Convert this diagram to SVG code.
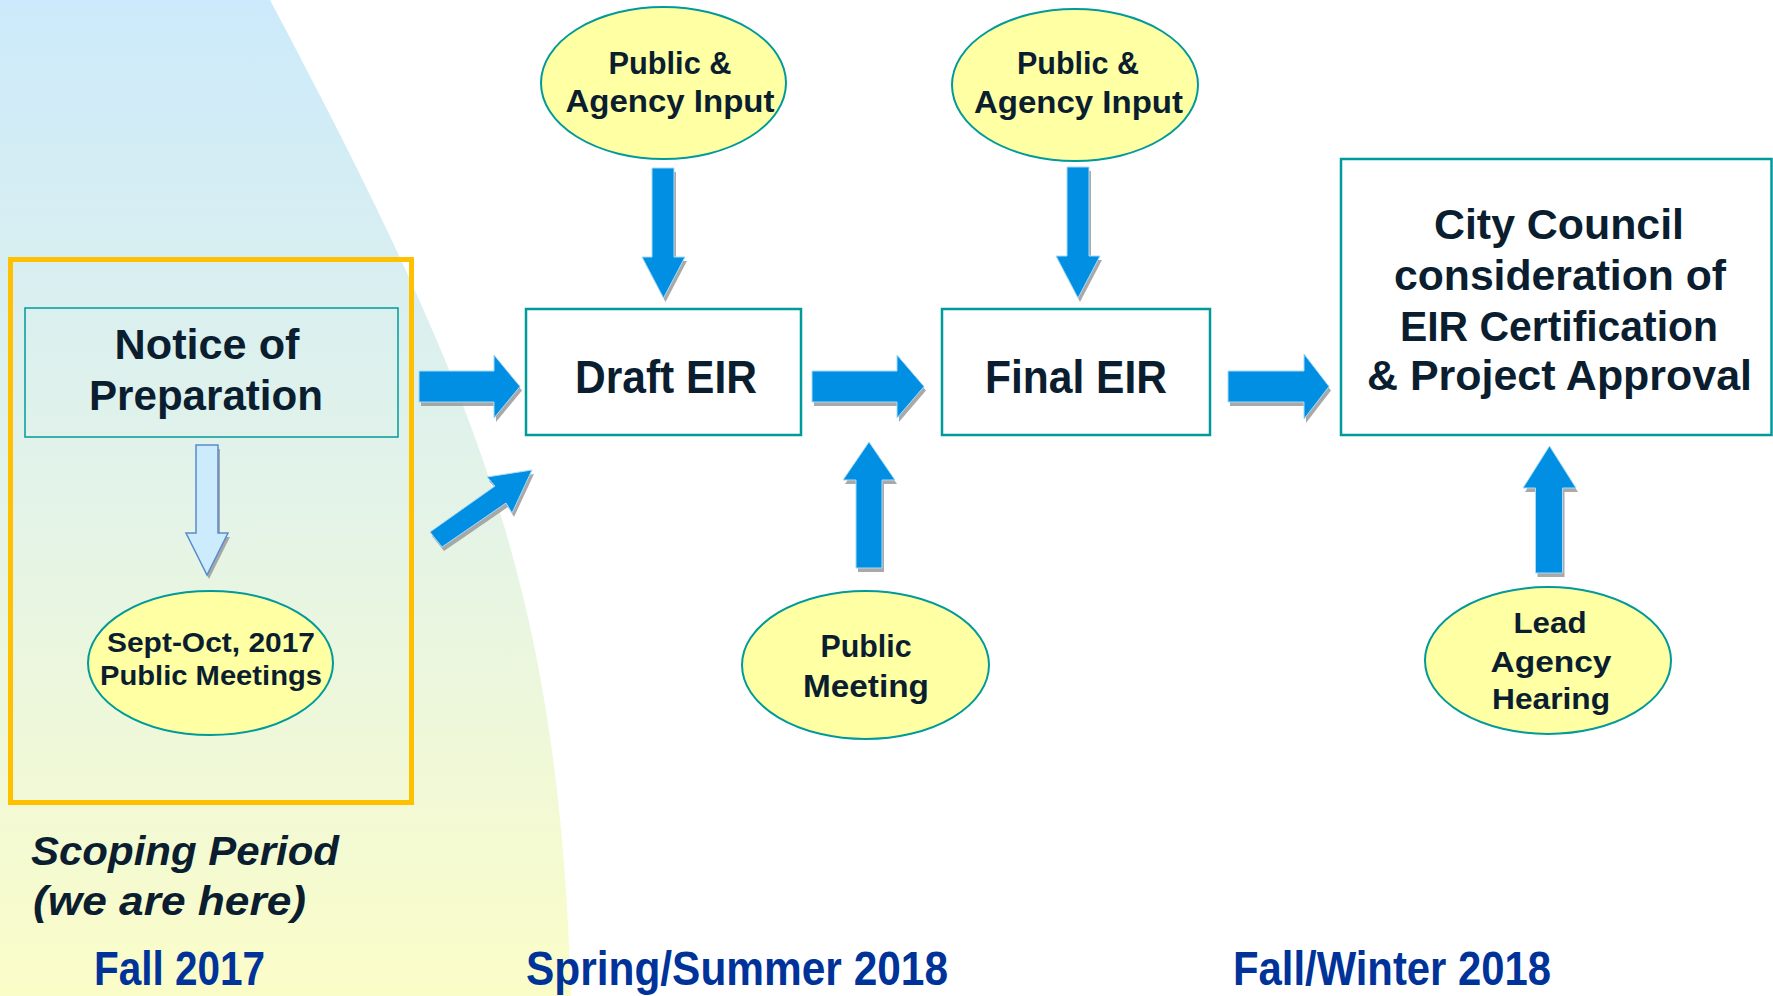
<svg xmlns="http://www.w3.org/2000/svg" xmlns:xlink="http://www.w3.org/1999/xlink" width="1773" height="996" viewBox="0 0 1773 996">
  <style>
    .t { font-family: "Liberation Sans", Arial, sans-serif; font-weight: bold; fill: #0A1E30; text-anchor: middle; }
    .box { fill: #FFFFFF; stroke: #009A9A; stroke-width: 2.5; }
    .ell { fill: #FFFFA3; stroke: #009A9A; stroke-width: 2; }
    .arrow { fill: #008FE2; stroke: #A8DAF7; stroke-width: 1; }
    .shadow { fill: #9A9A9A; opacity: 0.85; }
    .period { font-family: "Liberation Sans", Arial, sans-serif; font-weight: bold; fill: #003399; }
  </style>
  <defs>
    <linearGradient id="bg" x1="0" y1="0" x2="0" y2="1">
      <stop offset="0" stop-color="#CCEAFB"/>
      <stop offset="0.5" stop-color="#E3F3E8"/>
      <stop offset="1" stop-color="#FBFDC8"/>
    </linearGradient>
    <polygon id="aR1" points="419,371 494,371 494,355 520,386.5 494,418 494,402 419,402"/>
    <polygon id="aR2" points="812,371 897,371 897,355 924,386.5 897,418 897,402 812,402"/>
    <polygon id="aR3" points="1228,371 1304,371 1304,354 1329,386.5 1304,419 1304,402 1228,402"/>
    <polygon id="aDiag" points="430,532 495,486 487,477 532,470 512,513 506,503 442,547"/>
    <polygon id="aD1" points="652,168 674,168 674,257 685,257 663.5,298 642,257 652,257"/>
    <polygon id="aD2" points="1067,167 1089,167 1089,256 1100,256 1078,298 1056,256 1067,256"/>
    <polygon id="aU1" points="856,568 882,568 882,480 895,480 869,442 843,480 856,480"/>
    <polygon id="aU2" points="1535.5,573 1562.5,573 1562.5,488 1576,488 1549.5,446 1523,488 1535.5,488"/>
    <polygon id="aHollow" points="196,445 218,445 218,533 228,533 207,575 186,533 196,533"/>
  </defs>

  <!-- background -->
  <rect x="0" y="0" width="1773" height="996" fill="#FFFFFF"/>
  <path d="M0,0 H270 C482,400 559,596 571,996 H0 Z" fill="url(#bg)"/>

  <!-- scoping period frame -->
  <rect id="scoping-frame" x="10.5" y="259.5" width="401" height="543" fill="none" stroke="#FFC000" stroke-width="5"/>

  <!-- connectors -->
  <g id="connectors">
    <use xlink:href="#aR1" class="shadow" transform="translate(2,4)"/>
    <use xlink:href="#aR1" class="arrow"/>
    <use xlink:href="#aR2" class="shadow" transform="translate(2,4)"/>
    <use xlink:href="#aR2" class="arrow"/>
    <use xlink:href="#aR3" class="shadow" transform="translate(2,4)"/>
    <use xlink:href="#aR3" class="arrow"/>
    <use xlink:href="#aDiag" class="shadow" transform="translate(2,4)"/>
    <use xlink:href="#aDiag" class="arrow"/>
    <use xlink:href="#aD1" class="shadow" transform="translate(2,4)"/>
    <use xlink:href="#aD1" class="arrow"/>
    <use xlink:href="#aD2" class="shadow" transform="translate(2,4)"/>
    <use xlink:href="#aD2" class="arrow"/>
    <use xlink:href="#aU1" class="shadow" transform="translate(2,4)"/>
    <use xlink:href="#aU1" class="arrow"/>
    <use xlink:href="#aU2" class="shadow" transform="translate(2,4)"/>
    <use xlink:href="#aU2" class="arrow"/>
    <use xlink:href="#aHollow" class="shadow" transform="translate(2,4)"/>
    <use xlink:href="#aHollow" fill="#CCEBFD" stroke="#5B8BCB" stroke-width="1.5"/>
  </g>

  <!-- nodes -->
  <g id="notice">
    <rect x="25" y="308" width="373" height="129" fill="none" stroke="#009A9A" stroke-width="1.5"/>
    <text class="t" x="207" y="359" font-size="42" textLength="185" lengthAdjust="spacingAndGlyphs">Notice of</text>
    <text class="t" x="206" y="410" font-size="42" textLength="234" lengthAdjust="spacingAndGlyphs">Preparation</text>
  </g>

  <g id="sept-oct">
    <ellipse class="ell" cx="210.5" cy="663" rx="122.5" ry="72"/>
    <text class="t" x="211" y="652" font-size="28" textLength="208" lengthAdjust="spacingAndGlyphs">Sept-Oct, 2017</text>
    <text class="t" x="211" y="685" font-size="28" textLength="222" lengthAdjust="spacingAndGlyphs">Public Meetings</text>
  </g>

  <g id="draft-eir">
    <rect class="box" x="526" y="309" width="275" height="126"/>
    <text class="t" x="666" y="393" font-size="46" textLength="182" lengthAdjust="spacingAndGlyphs">Draft EIR</text>
  </g>

  <g id="input-1">
    <ellipse class="ell" cx="663.5" cy="83" rx="122.5" ry="76"/>
    <text class="t" x="670" y="74" font-size="32" textLength="123" lengthAdjust="spacingAndGlyphs">Public &amp;</text>
    <text class="t" x="670" y="112" font-size="32" textLength="209" lengthAdjust="spacingAndGlyphs">Agency Input</text>
  </g>

  <g id="public-meeting">
    <ellipse class="ell" cx="865.5" cy="665" rx="123.5" ry="74"/>
    <text class="t" x="866" y="657" font-size="31" textLength="91" lengthAdjust="spacingAndGlyphs">Public</text>
    <text class="t" x="866" y="697" font-size="31" textLength="126" lengthAdjust="spacingAndGlyphs">Meeting</text>
  </g>

  <g id="final-eir">
    <rect class="box" x="942" y="309" width="268" height="126"/>
    <text class="t" x="1076" y="393" font-size="46" textLength="182" lengthAdjust="spacingAndGlyphs">Final EIR</text>
  </g>

  <g id="input-2">
    <ellipse class="ell" cx="1075" cy="85" rx="123" ry="76"/>
    <text class="t" x="1078" y="74" font-size="32" textLength="122" lengthAdjust="spacingAndGlyphs">Public &amp;</text>
    <text class="t" x="1078.5" y="113" font-size="32" textLength="209" lengthAdjust="spacingAndGlyphs">Agency Input</text>
  </g>

  <g id="city-council">
    <rect class="box" x="1341" y="159" width="430.5" height="276"/>
    <text class="t" x="1559" y="239" font-size="42" textLength="250" lengthAdjust="spacingAndGlyphs">City Council</text>
    <text class="t" x="1560" y="290" font-size="42" textLength="332" lengthAdjust="spacingAndGlyphs">consideration of</text>
    <text class="t" x="1559" y="341" font-size="42" textLength="318" lengthAdjust="spacingAndGlyphs">EIR Certification</text>
    <text class="t" x="1559.5" y="390" font-size="42" textLength="385" lengthAdjust="spacingAndGlyphs">&amp; Project Approval</text>
  </g>

  <g id="lead-agency">
    <ellipse class="ell" cx="1548" cy="660.5" rx="123" ry="73.5"/>
    <text class="t" x="1550" y="633" font-size="30" textLength="73" lengthAdjust="spacingAndGlyphs">Lead</text>
    <text class="t" x="1551" y="672" font-size="30" textLength="121" lengthAdjust="spacingAndGlyphs">Agency</text>
    <text class="t" x="1551" y="709" font-size="30" textLength="118" lengthAdjust="spacingAndGlyphs">Hearing</text>
  </g>

  <!-- labels -->
  <g id="scoping-label">
    <text x="31" y="865" font-family="Liberation Sans, Arial, sans-serif" font-weight="bold" font-style="italic" font-size="40" fill="#0A1E30" textLength="308" lengthAdjust="spacingAndGlyphs">Scoping Period</text>
    <text x="33" y="915" font-family="Liberation Sans, Arial, sans-serif" font-weight="bold" font-style="italic" font-size="40" fill="#0A1E30" textLength="273" lengthAdjust="spacingAndGlyphs">(we are here)</text>
  </g>
  <g id="periods">
    <text class="period" x="94" y="985" font-size="48" textLength="171" lengthAdjust="spacingAndGlyphs">Fall 2017</text>
    <text class="period" x="526" y="985" font-size="48" textLength="422" lengthAdjust="spacingAndGlyphs">Spring/Summer 2018</text>
    <text class="period" x="1233" y="985" font-size="48" textLength="318" lengthAdjust="spacingAndGlyphs">Fall/Winter 2018</text>
  </g>
</svg>
